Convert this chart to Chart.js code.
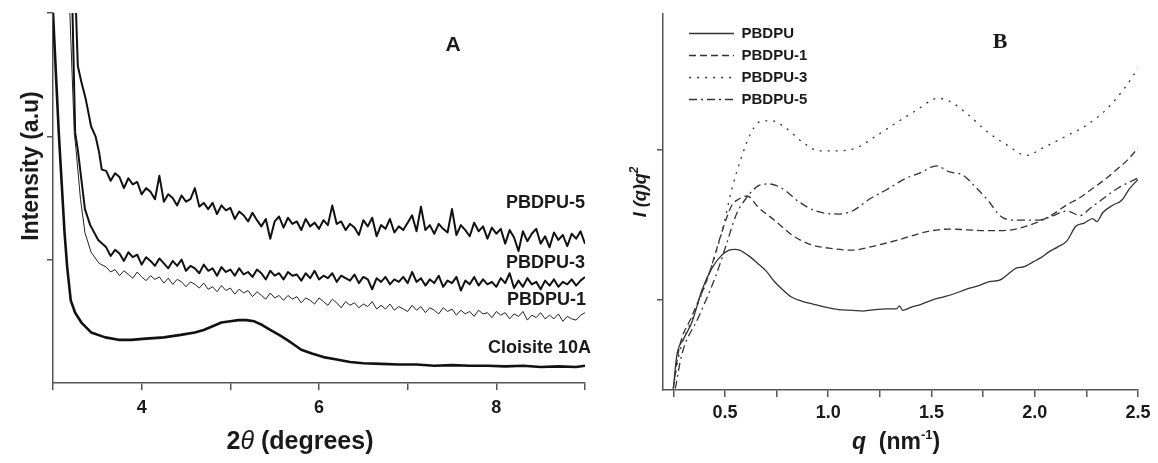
<!DOCTYPE html>
<html><head><meta charset="utf-8">
<script src="https://cdn.jsdelivr.net/npm/chart.js@4.4.1/dist/chart.umd.min.js"></script>
<style>
html,body{margin:0;padding:0;background:#fff;width:1158px;height:463px;overflow:hidden}
#wa{position:absolute;left:0;top:0;width:600px;height:463px}
#wb{position:absolute;left:600px;top:0;width:558px;height:463px}
</style></head><body>
<div id="wa"><canvas id="ca"></canvas></div>
<div id="wb"><canvas id="cb"></canvas></div>
<script>
// ---------- Panel A : XRD ----------
const cloisiteX = [3.00,3.065,3.13,3.16,3.20,3.25,3.32,3.43,3.59,3.74,3.88,4.05,4.25,4.44,4.60,4.70,4.80,4.90,5.00,5.09,5.18,5.27,5.36,5.45,5.55,5.64,5.72,5.80,5.92,6.05,6.20,6.35,6.50,6.70,6.90,7.10,7.30,7.50,7.70,7.90,8.10,8.30,8.50,8.70,8.90,9.00];
const cloisiteY = [3.0,2.03,1.22,0.94,0.67,0.57,0.49,0.41,0.37,0.35,0.35,0.36,0.37,0.39,0.41,0.43,0.46,0.49,0.50,0.51,0.51,0.50,0.47,0.43,0.39,0.35,0.31,0.27,0.24,0.21,0.19,0.17,0.16,0.155,0.15,0.15,0.14,0.145,0.14,0.14,0.135,0.14,0.13,0.135,0.13,0.14];

const gridA = [3.60,3.65,3.70,3.75,3.80,3.85,3.90,3.95,4.00,4.05,
  4.10,4.15,4.20,4.25,4.30,4.35,4.40,4.45,4.50,4.55,
  4.60,4.65,4.70,4.75,4.80,4.85,4.90,4.95,5.00,5.05,
  5.10,5.15,5.20,5.25,5.30,5.35,5.40,5.45,5.50,5.55,
  5.60,5.65,5.70,5.75,5.80,5.85,5.90,5.95,6.00,6.05,
  6.10,6.15,6.20,6.25,6.30,6.35,6.40,6.45,6.50,6.55,
  6.60,6.65,6.70,6.75,6.80,6.85,6.90,6.95,7.00,7.05,
  7.10,7.15,7.20,7.25,7.30,7.35,7.40,7.45,7.50,7.55,
  7.60,7.65,7.70,7.75,7.80,7.85,7.90,7.95,8.00,8.05,
  8.10,8.15,8.20,8.25,8.30,8.35,8.40,8.45,8.50,8.55,
  8.60,8.65,8.70,8.75,8.80,8.85,8.90,8.95,9.00];

const pbdpu5SteepX = [3.26,3.28,3.32,3.37,3.43,3.48,3.52,3.55];
const pbdpu5SteepY = [3.0,2.57,2.44,2.30,2.08,2.00,1.87,1.73];
const pbdpu5Y = [1.72,1.64,1.70,1.67,1.58,1.66,1.61,1.63,1.53,1.58,
  1.55,1.49,1.68,1.47,1.53,1.50,1.44,1.52,1.47,1.49,
  1.58,1.43,1.46,1.41,1.46,1.37,1.44,1.40,1.42,1.33,
  1.39,1.36,1.31,1.38,1.32,1.27,1.33,1.17,1.31,1.35,
  1.26,1.34,1.29,1.31,1.24,1.33,1.27,1.30,1.25,1.32,
  1.28,1.44,1.29,1.31,1.24,1.29,1.26,1.20,1.32,1.27,
  1.34,1.19,1.28,1.25,1.33,1.22,1.27,1.24,1.30,1.36,
  1.23,1.43,1.24,1.28,1.21,1.29,1.25,1.22,1.41,1.20,
  1.28,1.24,1.19,1.30,1.23,1.27,1.17,1.26,1.21,1.25,
  1.13,1.24,1.18,1.07,1.23,1.15,1.21,1.25,1.13,1.19,
  1.10,1.22,1.16,1.20,1.11,1.21,1.17,1.23,1.13];

const pbdpu3SteepX = [3.22,3.25,3.28,3.36,3.42,3.51];
const pbdpu3SteepY = [3.0,2.03,1.89,1.41,1.28,1.16];
const pbdpu3Y = [1.10,1.03,1.08,1.05,0.99,1.06,1.02,1.04,0.96,1.02,
  0.99,0.95,1.01,0.97,0.93,0.99,0.95,1.00,0.91,0.95,
  0.93,0.89,0.96,0.91,0.93,0.87,0.94,0.90,0.92,0.87,
  0.93,0.88,0.90,0.86,0.92,0.89,0.84,0.91,0.87,0.89,
  0.84,0.90,0.87,0.88,0.83,0.89,0.85,0.91,0.84,0.87,
  0.85,0.89,0.82,0.87,0.85,0.83,0.88,0.81,0.86,0.84,
  0.76,0.85,0.82,0.86,0.80,0.84,0.82,0.86,0.81,0.90,
  0.82,0.85,0.79,0.84,0.81,0.87,0.78,0.83,0.81,0.86,
  0.75,0.83,0.80,0.86,0.79,0.84,0.80,0.82,0.78,0.85,
  0.81,0.89,0.77,0.83,0.78,0.85,0.80,0.82,0.76,0.83,
  0.79,0.84,0.78,0.82,0.80,0.84,0.79,0.83,0.86];

const pbdpu1SteepX = [3.19,3.24,3.26,3.31,3.36,3.43,3.52];
const pbdpu1SteepY = [3.0,2.03,1.89,1.49,1.22,1.06,0.97];
const pbdpu1Y = [0.94,0.90,0.92,0.87,0.91,0.88,0.85,0.90,0.86,0.83,
  0.87,0.84,0.86,0.81,0.85,0.80,0.84,0.82,0.78,0.82,
  0.80,0.77,0.81,0.76,0.78,0.74,0.79,0.75,0.77,0.72,
  0.76,0.73,0.75,0.70,0.74,0.71,0.68,0.73,0.69,0.71,
  0.67,0.71,0.68,0.70,0.65,0.69,0.67,0.64,0.69,0.66,
  0.63,0.68,0.65,0.61,0.66,0.63,0.65,0.61,0.64,0.62,
  0.66,0.60,0.63,0.60,0.64,0.59,0.62,0.60,0.58,0.63,
  0.59,0.62,0.57,0.61,0.59,0.56,0.61,0.58,0.60,0.55,
  0.59,0.56,0.58,0.54,0.59,0.56,0.57,0.53,0.58,0.55,
  0.57,0.52,0.56,0.54,0.58,0.51,0.55,0.53,0.57,0.52,
  0.55,0.52,0.56,0.50,0.54,0.52,0.51,0.55,0.57];

const xTicksA = [3,4,5,6,7,8,9];
const xTickLabelsA = ['4','6','8'];
const yTicksA = [1,2,3];

// ---------- Panel B : SAXS ----------
const qPBDPU = [0.25,0.267,0.30,0.34,0.39,0.437,0.48,0.52,0.55,0.57,0.617,0.66,0.70,0.74,0.777,0.82,0.874,0.93,0.99,1.05,1.117,1.17,1.23,1.28,1.33,1.345,1.36,1.40,1.45,1.505,1.56,1.61,1.67,1.72,1.78,1.83,1.87,1.91,1.95,1.99,2.03,2.07,2.11,2.155,2.20,2.24,2.28,2.30,2.33,2.38,2.42,2.46,2.50];
const iPBDPU = [0.41,0.63,0.74,0.85,1.07,1.21,1.29,1.33,1.335,1.33,1.29,1.24,1.19,1.12,1.07,1.02,0.99,0.97,0.95,0.935,0.93,0.925,0.935,0.94,0.94,0.96,0.93,0.95,0.97,1.00,1.02,1.04,1.07,1.09,1.12,1.13,1.17,1.21,1.22,1.25,1.28,1.32,1.35,1.39,1.49,1.51,1.54,1.52,1.58,1.63,1.66,1.74,1.80];
const qPBDPU1 = [0.25,0.277,0.34,0.42,0.485,0.534,0.568,0.607,0.665,0.748,0.825,0.908,1.02,1.117,1.23,1.345,1.44,1.505,1.587,1.67,1.75,1.83,1.91,2.02,2.09,2.155,2.22,2.28,2.34,2.40,2.45,2.50];
const iPBDPU1 = [0.41,0.67,0.89,1.16,1.45,1.63,1.67,1.69,1.61,1.52,1.43,1.37,1.34,1.33,1.36,1.40,1.44,1.46,1.47,1.465,1.46,1.46,1.47,1.52,1.57,1.63,1.68,1.74,1.80,1.87,1.93,2.01];
const qPBDPU3 = [0.25,0.277,0.34,0.42,0.485,0.534,0.583,0.63,0.68,0.728,0.796,0.874,0.956,1.04,1.136,1.233,1.345,1.427,1.505,1.53,1.587,1.67,1.767,1.864,1.96,2.04,2.155,2.25,2.35,2.447,2.50];
const iPBDPU3 = [0.41,0.63,0.87,1.16,1.45,1.74,1.96,2.12,2.19,2.19,2.14,2.05,1.99,1.99,2.01,2.09,2.19,2.26,2.33,2.34,2.32,2.24,2.12,2.03,1.96,2.01,2.09,2.16,2.27,2.43,2.54];
const qPBDPU5 = [0.26,0.29,0.374,0.456,0.505,0.553,0.60,0.665,0.714,0.777,0.86,0.94,1.053,1.117,1.20,1.28,1.38,1.44,1.524,1.587,1.65,1.72,1.78,1.83,1.89,1.96,2.02,2.09,2.155,2.22,2.27,2.31,2.40,2.50];
const iPBDPU5 = [0.41,0.63,0.89,1.16,1.36,1.56,1.67,1.76,1.77,1.74,1.65,1.59,1.57,1.59,1.67,1.73,1.81,1.84,1.89,1.85,1.83,1.74,1.65,1.56,1.53,1.53,1.53,1.56,1.59,1.56,1.61,1.65,1.74,1.81];

const xTicksB = [0.25,0.5,0.75,1.0,1.25,1.5,1.75,2.0,2.25,2.5];
const xTickLabelsB = ['0.5','1.0','1.5','2.0','2.5'];
const yTicksB = [1,2];

// ---------- helpers ----------
const FONT = '"Liberation Sans", Arial, sans-serif';
Chart.defaults.font.family = FONT;
const pts = (xs, ys) => xs.map((x, i) => ({x, y: ys[i]}));
const AX = '#555';

function drawRich(ctx, runs, x, y, rot) {
  ctx.save();
  ctx.translate(x, y);
  ctx.rotate(rot || 0);
  ctx.textBaseline = 'alphabetic';
  ctx.textAlign = 'left';
  ctx.fillStyle = '#1a1a1a';
  let total = 0;
  runs.forEach(r => { ctx.font = r.f; r.w = ctx.measureText(r.t).width; total += r.w; });
  let cx = -total / 2;
  runs.forEach(r => { ctx.font = r.f; ctx.fillText(r.t, cx, r.dy || 0); cx += r.w; });
  ctx.restore();
}
function label(ctx, t, x, y, font, align) {
  ctx.save();
  ctx.font = font; ctx.fillStyle = '#1a1a1a';
  ctx.textAlign = align || 'left'; ctx.textBaseline = 'middle';
  ctx.fillText(t, x, y);
  ctx.restore();
}

function axisX(min, max, ticks, labels, h, fmt, pad) {
  return {
    type: 'linear', min, max,
    afterBuildTicks: s => { s.ticks = ticks.map(v => ({value: v})); },
    afterFit: s => { s.height = h; },
    ticks: {
      autoSkip: false, maxRotation: 0, padding: pad, color: '#1a1a1a',
      font: {size: 18, weight: 'bold'},
      callback: v => { const t = fmt(v); return labels.includes(t) ? t : ''; }
    },
    grid: {display: true, drawOnChartArea: false, drawTicks: true, tickLength: 7, color: AX, lineWidth: 1.5},
    border: {display: true, color: AX, width: 1.5}
  };
}
function axisY(min, max, ticks, w) {
  return {
    type: 'linear', min, max,
    afterBuildTicks: s => { s.ticks = ticks.map(v => ({value: v})); },
    afterFit: s => { s.width = w; },
    ticks: {display: false},
    grid: {display: true, drawOnChartArea: false, drawTicks: true, tickLength: 6, color: AX, lineWidth: 1.5},
    border: {display: true, color: AX, width: 1.5}
  };
}

// ---------- Chart A ----------
const textA = {
  id: 'textA',
  afterDraw(chart) {
    const ctx = chart.ctx;
    const b = 'bold 18px ' + FONT;
    label(ctx, 'A', 453, 45, 'bold 21px ' + FONT, 'center');
    label(ctx, 'PBDPU-5', 585, 203, b, 'right');
    label(ctx, 'PBDPU-3', 585, 263, b, 'right');
    label(ctx, 'PBDPU-1', 586, 300, b, 'right');
    label(ctx, 'Cloisite 10A', 591, 348, b, 'right');
    drawRich(ctx, [{t: 'Intensity (a.u)', f: 'bold 23px ' + FONT}], 38, 166, -Math.PI / 2);
    drawRich(ctx, [
      {t: '2', f: 'bold 25px ' + FONT},
      {t: '\u03B8', f: 'italic 25px ' + FONT},
      {t: ' (degrees)', f: 'bold 25px ' + FONT}
    ], 300, 449, 0);
  }
};

new Chart(document.getElementById('ca'), {
  type: 'line',
  data: {
    datasets: [
      {label: 'Cloisite 10A', data: pts(cloisiteX, cloisiteY), borderColor: '#111', borderWidth: 2.6},
      {label: 'PBDPU-1', data: pts(pbdpu1SteepX.concat(gridA), pbdpu1SteepY.concat(pbdpu1Y)), borderColor: '#222', borderWidth: 1},
      {label: 'PBDPU-3', data: pts(pbdpu3SteepX.concat(gridA), pbdpu3SteepY.concat(pbdpu3Y)), borderColor: '#111', borderWidth: 2},
      {label: 'PBDPU-5', data: pts(pbdpu5SteepX.concat(gridA), pbdpu5SteepY.concat(pbdpu5Y)), borderColor: '#111', borderWidth: 2}
    ]
  },
  options: {
    responsive: true, maintainAspectRatio: false, animation: false, devicePixelRatio: 1,
    parsing: false,
    elements: {point: {radius: 0}, line: {tension: 0, borderJoinStyle: 'round'}},
    layout: {padding: {left: 0, right: 15, top: 13, bottom: 0}},
    plugins: {legend: {display: false}, tooltip: {enabled: false}},
    scales: {
      x: axisX(3, 9, xTicksA, xTickLabelsA, 80, v => String(v), 7),
      y: axisY(0, 3, yTicksA, 53)
    }
  },
  plugins: [textA]
});

// ---------- Chart B ----------
const textB = {
  id: 'textB',
  afterLayout(chart) {
    if (chart.legend) { chart.legend.left += 19; chart.legend.top += 19; }
  },
  afterDraw(chart) {
    const ctx = chart.ctx;
    label(ctx, 'B', 400, 42, 'bold 22px "Liberation Serif", "Times New Roman", serif', 'center');
    drawRich(ctx, [
      {t: 'I', f: 'italic bold 18px ' + FONT},
      {t: ' (q)q', f: 'italic bold 18px ' + FONT},
      {t: '2', f: 'italic bold 12px ' + FONT, dy: -8}
    ], 46, 192, -Math.PI / 2);
    drawRich(ctx, [
      {t: 'q', f: 'italic bold 23px ' + FONT},
      {t: '  (nm', f: 'bold 23px ' + FONT},
      {t: '-1', f: 'bold 13px ' + FONT, dy: -10},
      {t: ')', f: 'bold 23px ' + FONT}
    ], 296, 449, 0);
  }
};

const lineB = {borderColor: '#333', borderWidth: 1.3, pointStyle: 'line', cubicInterpolationMode: 'monotone'};
new Chart(document.getElementById('cb'), {
  type: 'line',
  data: {
    datasets: [
      Object.assign({label: 'PBDPU', data: pts(qPBDPU, iPBDPU), borderDash: []}, lineB),
      Object.assign({label: 'PBDPU-1', data: pts(qPBDPU1, iPBDPU1), borderDash: [7, 4]}, lineB),
      Object.assign({label: 'PBDPU-3', data: pts(qPBDPU3, iPBDPU3), borderDash: [2, 6]}, lineB),
      Object.assign({label: 'PBDPU-5', data: pts(qPBDPU5, iPBDPU5), borderDash: [8, 4, 2, 4]}, lineB)
    ]
  },
  options: {
    responsive: true, maintainAspectRatio: false, animation: false, devicePixelRatio: 1,
    parsing: false,
    elements: {point: {radius: 0}},
    layout: {padding: {left: 0, right: 20, top: 14, bottom: 0}},
    plugins: {
      tooltip: {enabled: false},
      legend: {
        display: true, position: 'chartArea', align: 'start',
        labels: {
          usePointStyle: true, pointStyleWidth: 45, padding: 7, color: '#1a1a1a',
          font: {size: 15, weight: 'bold'},
          generateLabels: chart => Chart.defaults.plugins.legend.labels.generateLabels(chart).map(it => {
            const ds = chart.data.datasets[it.datasetIndex];
            return Object.assign(it, {lineDash: ds.borderDash, lineWidth: 1.3, strokeStyle: '#333', fillStyle: '#333'});
          })
        }
      }
    },
    scales: {
      x: axisX(0.2, 2.5, xTicksB, xTickLabelsB, 73, v => v.toFixed(1), 5),
      y: axisY(0.4, 2.9, yTicksB, 63)
    }
  },
  plugins: [textB]
});
</script>
</body></html>
